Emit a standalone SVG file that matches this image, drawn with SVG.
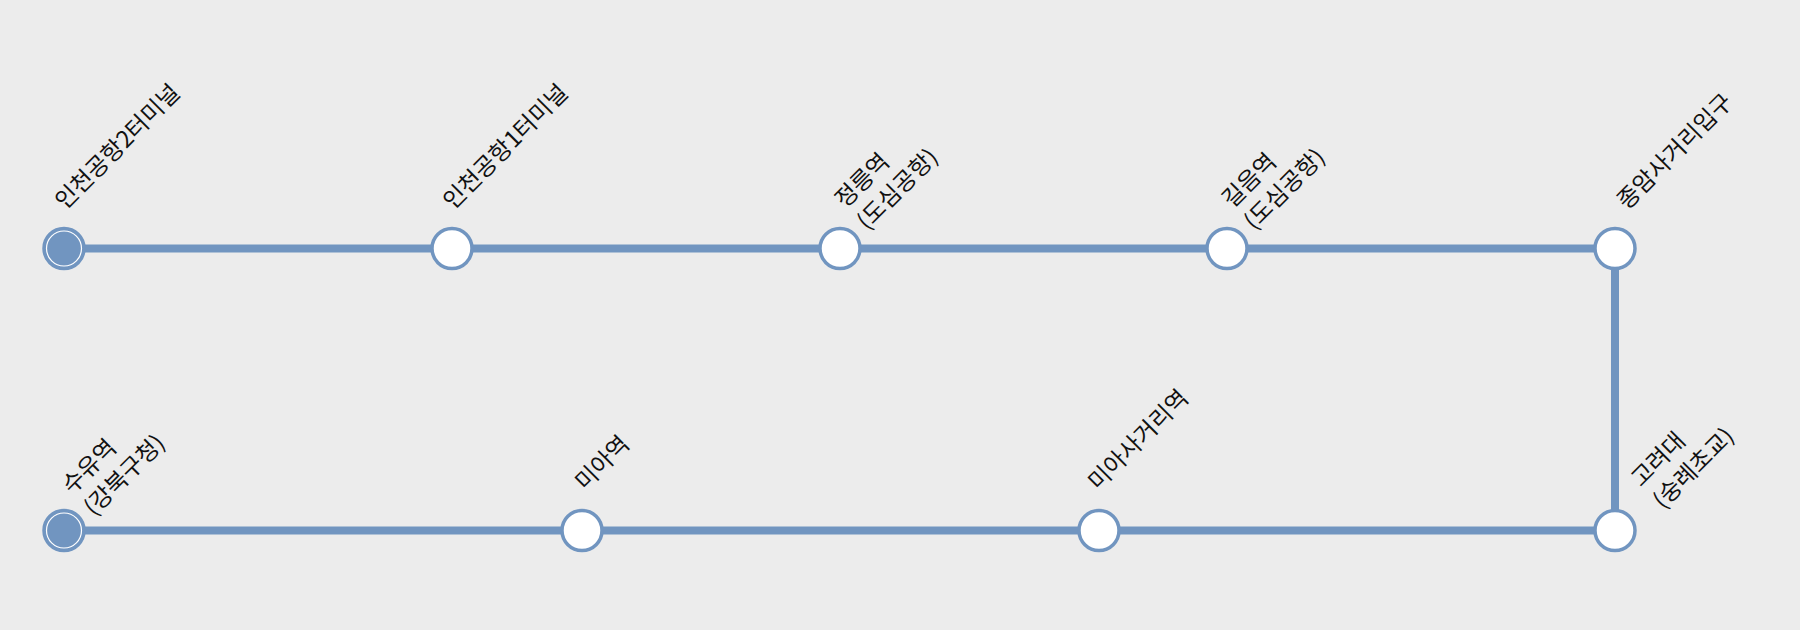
<svg xmlns="http://www.w3.org/2000/svg" width="1800" height="630" viewBox="0 0 1800 630">
<style>
.bg{fill:#ececec}
.ln{stroke:#7195c0;stroke-width:8;fill:none}
.st{fill:#fff;stroke:#7195c0;stroke-width:3.5}
.term{fill:#7195c0;stroke:#7195c0;stroke-width:3.5}
.ring{fill:none;stroke:#fff;stroke-width:1.2}
.lb{font-family:"Noto Sans CJK KR","Noto Sans",sans-serif;font-size:23.5px;fill:#111}
</style>
<rect class="bg" width="1800" height="630"/>
<g id="connectors">
<path class="ln" d="M64 248.5H1615V530.5H64"/>
</g>
<g id="n1"><circle class="term" cx="64" cy="248.5" r="20"/><circle class="ring" cx="64" cy="248.5" r="17.5"/><text class="lb" transform="translate(65 210.5) rotate(-45)">인천공항2터미널</text></g>
<g id="n2"><circle class="st" cx="452" cy="248.5" r="20"/><text class="lb" transform="translate(453 210.5) rotate(-45)">인천공항1터미널</text></g>
<g id="n3"><circle class="st" cx="840" cy="248.5" r="20"/><text class="lb" transform="translate(845 209) rotate(-45)"><tspan x="0" y="0">정릉역</tspan><tspan x="0" y="31">(도심공항)</tspan></text></g>
<g id="n4"><circle class="st" cx="1227" cy="248.5" r="20"/><text class="lb" transform="translate(1232 209) rotate(-45)"><tspan x="0" y="0">길음역</tspan><tspan x="0" y="31">(도심공항)</tspan></text></g>
<g id="n5"><circle class="st" cx="1615" cy="248.5" r="20"/><text class="lb" transform="translate(1627 210.5) rotate(-45)">종암사거리입구</text></g>
<g id="n6"><circle class="st" cx="1615" cy="530.5" r="20"/><text class="lb" transform="translate(1641 488) rotate(-45)"><tspan x="0" y="0">고려대</tspan><tspan x="0" y="31">(숭례초교)</tspan></text></g>
<g id="n7"><circle class="st" cx="1099" cy="530.5" r="20"/><text class="lb" transform="translate(1098 491.5) rotate(-45)">미아사거리역</text></g>
<g id="n8"><circle class="st" cx="582" cy="530.5" r="20"/><text class="lb" transform="translate(585 491.5) rotate(-45)">미아역</text></g>
<g id="n9"><circle class="term" cx="64" cy="530.5" r="20"/><circle class="ring" cx="64" cy="530.5" r="17.5"/><text class="lb" transform="translate(72 495) rotate(-45)"><tspan x="0" y="0">수유역</tspan><tspan x="0" y="31">(강북구청)</tspan></text></g>
</svg>
